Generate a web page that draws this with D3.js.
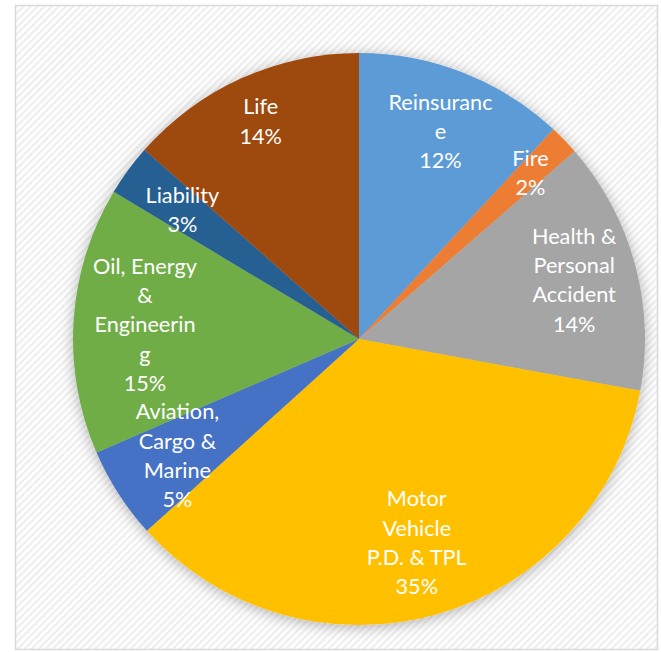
<!DOCTYPE html>
<html>
<head>
<meta charset="utf-8">
<script src="https://cdn.jsdelivr.net/npm/d3@7"></script>
<style>
  html, body { margin: 0; padding: 0; background: #fff; }
  svg { display: block; }
</style>
</head>
<body>
<div id="chart"></div>
<script>
// ---- data ---------------------------------------
var categories = ["Reinsurance", "Fire", "Health & Personal Accident", "Motor Vehicle P.D. & TPL",
    "Aviation, Cargo & Marine", "Oil, Energy & Engineering", "Liability", "Life"];
var values = [11.9, 1.7, 14.3, 35.4, 5.2, 15.1, 2.9, 13.5];
var pctLabels = ["12%", "2%", "14%", "35%", "5%", "15%", "3%", "14%"];
// label text as Excel wrapped it
var nameLines = [
    ["Reinsuranc", "e"],
    ["Fire"],
    ["Health &", "Personal", "Accident"],
    ["Motor", "Vehicle", "P.D. & TPL"],
    ["Aviation,", "Cargo &", "Marine"],
    ["Oil, Energy", "&", "Engineerin", "g"],
    ["Liability"],
    ["Life"]
];
var colors = ["#5B9BD5", "#ED7D31", "#A5A5A5", "#FFC000", "#4472C4", "#70AD47", "#255E91", "#9E480E"];

// ---- layout ---------------------------------------
var W = 661, H = 652;
var cx = 359, cy = 339, radius = 286;
var labelRadius = [0.78, 0.835, 0.78, 0.74, 0.755, 0.75, 0.765, 0.835];
var lineH = 29.3;

var svg = d3.select("#chart").append("svg")
    .attr("width", W)
    .attr("height", H);

var defs = svg.append("defs");

// diagonal hatch background
var pat = defs.append("pattern")
    .attr("id", "hatch")
    .attr("patternUnits", "userSpaceOnUse")
    .attr("width", 5)
    .attr("height", 5)
    .attr("patternTransform", "rotate(45)");
pat.append("rect").attr("width", 5).attr("height", 5).attr("fill", "#ffffff");
pat.append("rect").attr("width", 2.2).attr("height", 5).attr("fill", "#eeeeee");

// soft shadow around the pie
var f = defs.append("filter")
    .attr("id", "glow")
    .attr("x", "-20%").attr("y", "-20%")
    .attr("width", "140%").attr("height", "140%");
f.append("feDropShadow")
    .attr("dx", 0).attr("dy", 2)
    .attr("stdDeviation", 7)
    .attr("flood-color", "#000")
    .attr("flood-opacity", 0.3);

svg.append("rect")
    .attr("x", 15.5).attr("y", 5.5)
    .attr("width", 642).attr("height", 644)
    .attr("fill", "url(#hatch)")
    .attr("stroke", "#d9d9d9")
    .attr("stroke-width", 1.5);

var pie = d3.pie().sort(null).value(d => d);
var arcs = pie(values);

var arc = d3.arc().innerRadius(0).outerRadius(radius);

var g = svg.append("g").attr("transform", "translate(" + cx + "," + cy + ")");

g.append("g")
    .attr("filter", "url(#glow)")
    .selectAll("path")
    .data(arcs)
    .enter().append("path")
    .attr("d", arc)
    .attr("fill", (d, i) => colors[i]);

// ---- labels ----------------------------------------
var labels = g.selectAll(".lbl")
    .data(arcs)
    .enter().append("text")
    .attr("class", "lbl")
    .attr("text-anchor", "middle")
    .attr("fill", "#ffffff")
    .style("font-family", "Lato, 'Open Sans', sans-serif")
    .style("font-size", "21.7px");

labels.each(function (d, i) {
    var r = radius * labelRadius[i];
    var a = (d.startAngle + d.endAngle) / 2;
    var x = Math.sin(a) * r;
    var y = -Math.cos(a) * r;
    var lines = nameLines[i].concat([pctLabels[i]]);
    var t = d3.select(this);
    lines.forEach(function (s, k) {
        t.append("tspan")
            .attr("x", x)
            .attr("y", y + (k - (lines.length - 1) / 2) * lineH)
            .attr("dy", "0.35em")
            .text(s);
    });
});
</script>
</body>
</html>
